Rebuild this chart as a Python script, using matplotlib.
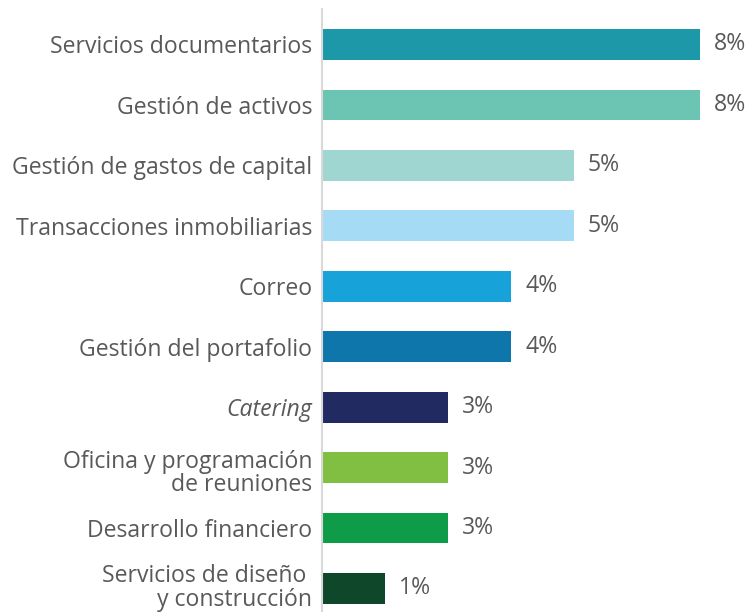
import matplotlib.pyplot as plt
import matplotlib.transforms as mtransforms

# datos: participación por servicio (%), de arriba hacia abajo
categorias = [
    "Servicios documentarios",
    "Gestión de activos",
    "Gestión de gastos de capital",
    "Transacciones inmobiliarias",
    "Correo",
    "Gestión del portafolio",
    "Catering",
    "Oficina y programación\nde reuniones",
    "Desarrollo financiero",
    "Servicios de diseño \ny construcción",
]
valores = [8.0, 8.0, 5.33, 5.33, 4.0, 4.0, 2.67, 2.67, 2.67, 1.33]
colores = ["#1d98a8", "#6cc5b3", "#a0d6d1", "#a6dbf5", "#17a2da",
           "#0e76aa", "#212b62", "#80bf42", "#0f9c48", "#0f472b"]

plt.rcParams['font.family'] = ['Open Sans', 'DejaVu Sans']
gris = "#595959"

fig = plt.figure(figsize=(7.5, 6.12), dpi=100)
ax = fig.add_axes([0.4293, 0.0, 0.5707, 0.9853])

pos = list(range(len(categorias)))
ax.barh(pos, valores, height=0.51, color=colores)

for p, v in zip(pos, valores):
    ax.text(v + 0.3, p, f"{round(v)}%", va='center', ha='left',
            fontsize=16.6, color=gris)

ax.set_xlim(0, 9.06)
ax.set_ylim(9.389, -0.587)
ax.set_yticks(pos)
ax.set_yticklabels(categorias, fontsize=16.6, color=gris, linespacing=0.97)
etiquetas = ax.get_yticklabels()
etiquetas[6].set_style('italic')
ax.tick_params(axis='y', length=0, pad=7)
ax.set_xticks([])

# pequeños ajustes verticales de las etiquetas de dos líneas
for idx, dy in [(7, -3), (9, 3)]:
    off = mtransforms.ScaledTranslation(0, dy / 100, fig.dpi_scale_trans)
    etiquetas[idx].set_transform(etiquetas[idx].get_transform() + off)

for lado in ['top', 'right', 'bottom']:
    ax.spines[lado].set_visible(False)
ax.spines['left'].set_color('#d9d9d9')
ax.spines['left'].set_linewidth(1.5)

fig.savefig("out.png", dpi=100)
